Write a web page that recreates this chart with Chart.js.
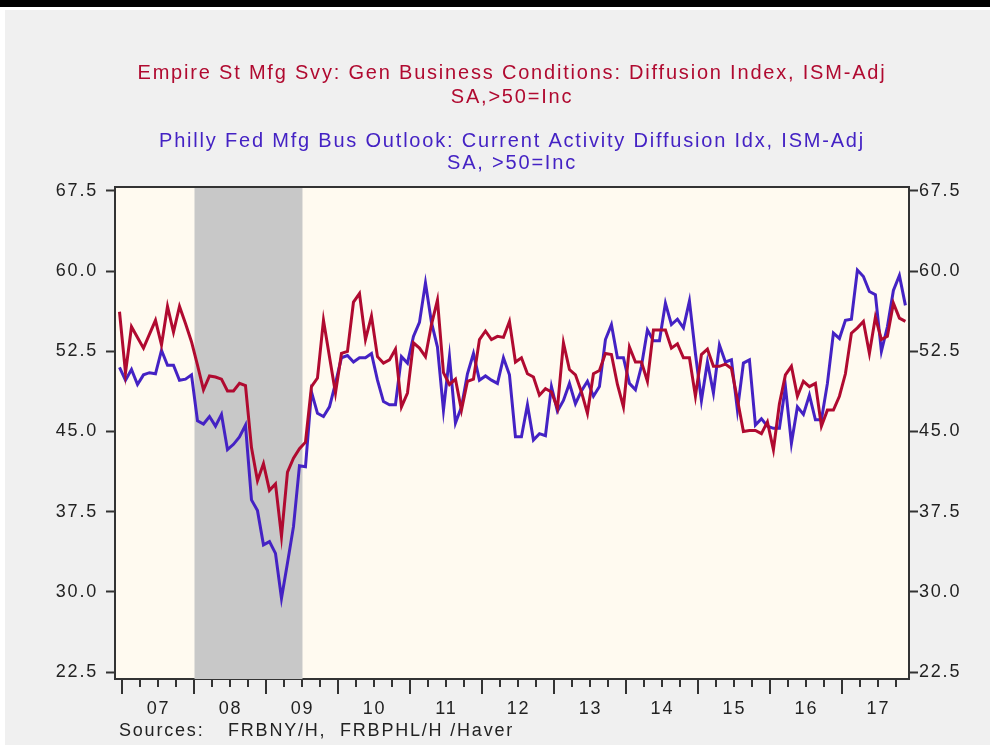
<!DOCTYPE html>
<html>
<head>
<meta charset="utf-8">
<script src="https://cdn.jsdelivr.net/npm/chart.js@4.4.0/dist/chart.umd.min.js"></script>
<style>
  body { margin: 0; background: #fff; width: 990px; height: 745px; overflow: hidden; position: relative; }
  #bar { position: absolute; left: 0; top: 0; width: 990px; height: 7px; background: #000; }
  #panel { position: absolute; left: 5px; top: 10px; width: 985px; height: 735px; background: #f0f0f0; }
  #salesChart { position: absolute; left: 0; top: 0; }
  .src { position: absolute; top: 721px; font: 18px "Liberation Sans", Arial, sans-serif; line-height: 18px; letter-spacing: 1.8px; color: #222; white-space: pre; }
</style>
</head>
<body>
<div id="bar"></div>
<div id="panel"></div>
<canvas id="salesChart" width="990" height="745"></canvas>
<div class="src" style="left:119px">Sources:</div>
<div class="src" style="left:228px">FRBNY/H,  FRBPHL/H /Haver</div>
<script>
// months counted from Jan 2007 (0); first value is Dec 2006
const firstMonth = -1;

const empire = [
  56.2, 50.5, 54.8, 53.8, 52.8, 54.1, 55.4, 53.1, 56.7, 54.3, 56.7, 55.1, 53.4,
  51.2, 48.9, 50.2, 50.1, 49.9, 48.8, 48.8, 49.5, 49.3, 43.5, 40.4, 42.0,
  39.5, 40.1, 35.2, 41.2, 42.5, 43.4, 44.0, 49.2, 50.0, 55.4, 52.0, 48.6,
  52.3, 52.5, 57.1, 57.9, 53.6, 55.8, 52.0, 51.4, 51.7, 52.7, 47.3, 48.6,
  53.3, 52.8, 52.0, 55.0, 57.3, 50.5, 49.4, 49.9, 47.0, 49.7, 49.9, 53.6,
  54.4, 53.6, 53.9, 53.8, 55.3, 51.5, 51.9, 50.4, 50.1, 48.4, 49.0, 48.7,
  47.2, 53.3, 50.8, 50.3, 48.7, 46.7, 50.4, 50.7, 52.3, 52.2, 49.4, 47.3,
  52.9, 51.5, 51.5, 49.7, 54.5, 54.5, 54.5, 52.8, 53.2, 51.9, 51.9, 48.3,
  52.2, 52.7, 51.1, 51.1, 51.3, 50.9, 48.0, 45.0, 45.1, 45.1, 44.8, 45.9,
  43.3, 47.6, 50.3, 51.1, 48.3, 49.7, 49.2, 49.5, 45.5, 47.0, 47.0, 48.3,
  50.4, 54.2, 54.7, 55.3, 52.3, 55.7, 53.6, 53.9, 57.0, 55.6, 55.3
];

const philly = [
  51.0, 49.8, 50.8, 49.4, 50.3, 50.5, 50.4, 52.6, 51.2, 51.2, 49.8, 49.9, 50.3,
  46.0, 45.7, 46.4, 45.5, 46.6, 43.3, 43.8, 44.5, 45.6, 38.6, 37.6, 34.4,
  34.7, 33.6, 29.4, 32.7, 36.1, 41.8, 41.7, 48.7, 46.7, 46.4, 47.3, 49.5,
  51.9, 52.1, 51.5, 51.9, 51.9, 52.3, 49.8, 47.8, 47.5, 47.5, 52.0, 51.4,
  53.9, 55.2, 58.9, 55.2, 52.9, 47.0, 52.0, 45.8, 47.3, 50.4, 52.3, 49.8,
  50.2, 49.8, 49.5, 51.9, 50.3, 44.5, 44.5, 47.5, 44.2, 44.8, 44.6, 49.2,
  46.9, 47.9, 49.5, 47.6, 48.8, 49.7, 48.3, 49.2, 53.6, 55.0, 51.9, 51.9,
  49.5, 48.9, 51.1, 54.5, 53.5, 53.5, 57.0, 55.0, 55.5, 54.7, 57.2, 52.3,
  47.9, 51.5, 48.6, 53.1, 51.5, 51.7, 47.0, 51.4, 51.7, 45.6, 46.2, 45.5,
  45.3, 45.3, 49.2, 43.9, 47.3, 46.6, 48.4, 46.1, 46.1, 49.5, 54.2, 53.7,
  55.4, 55.5, 60.1, 59.5, 58.1, 57.8, 52.5, 54.8, 58.2, 59.6, 56.8
];

const yearLabels = ["07", "08", "09", "10", "11", "12", "13", "14", "15", "16", "17"];
const yTicks = [22.5, 30.0, 37.5, 45.0, 52.5, 60.0, 67.5];
// NBER recession Dec 2007 - Jun 2009, in months from Jan 2007
const recession = [11, 29];

const titleLines = ["Empire St Mfg Svy: Gen Business Conditions: Diffusion Index, ISM-Adj", "SA,>50=Inc"];
const subtitleLines = ["Philly Fed Mfg Bus Outlook: Current Activity Diffusion Idx, ISM-Adj", "SA, >50=Inc"];

const FONT = "'Liberation Sans', Arial, sans-serif";
const RED = "#b00a30";
const BLUE = "#4422c4";
const INK = "#222";

const toPoints = arr => arr.map((v, i) => ({ x: firstMonth + i, y: v }));

const framePlugin = {
  id: "frame",
  beforeLayout(chart) {
    chart.ctx.letterSpacing = "1.8px";
  },
  beforeDraw(chart) {
    const { ctx, chartArea: a } = chart;
    ctx.letterSpacing = "1.8px";
    ctx.save();
    ctx.fillStyle = "#fffaf0";
    ctx.fillRect(a.left, a.top, a.right - a.left, a.bottom - a.top);
    ctx.restore();
  },
  beforeDatasetsDraw(chart) {
    const { ctx, chartArea: a, scales } = chart;
    const x0 = scales.x.getPixelForValue(recession[0] + 0.5);
    const x1 = scales.x.getPixelForValue(recession[1] + 0.5);
    ctx.save();
    ctx.fillStyle = "#c8c8c8";
    ctx.fillRect(x0, a.top, x1 - x0, a.bottom - a.top);
    ctx.restore();
  },
  afterDraw(chart) {
    const { ctx, chartArea: a, scales } = chart;
    ctx.save();
    ctx.strokeStyle = "#333";
    ctx.lineWidth = 2;
    ctx.beginPath();
    ctx.moveTo(a.left - 1, a.top);
    ctx.lineTo(a.right + 1, a.top);
    ctx.stroke();
    // quarterly tick marks, longer at the start of each year
    for (let q = 0; q < yearLabels.length * 4; q++) {
      const m = q * 3 - 0.5;
      if (m > scales.x.max) break;
      const px = Math.round(scales.x.getPixelForValue(m));
      const len = q % 4 === 0 ? 14 : 7;
      ctx.beginPath();
      ctx.moveTo(px, a.bottom + 1);
      ctx.lineTo(px, a.bottom + 1 + len);
      ctx.stroke();
    }
    ctx.restore();
  }
};

const yAxis = (position, width, padding) => ({
  type: "linear",
  position: position,
  min: 21.85,
  max: 67.87,
  afterBuildTicks: scale => { scale.ticks = yTicks.map(v => ({ value: v })); },
  afterFit: scale => { scale.width = width; },
  ticks: {
    color: INK,
    padding: padding,
    font: { family: FONT, size: 18 },
    callback: v => v.toFixed(1)
  },
  grid: { drawOnChartArea: false, drawTicks: true, tickLength: 9, tickColor: "#333", tickWidth: 2 },
  border: { display: true, color: "#333", width: 2 }
});

const ctx = document.getElementById("salesChart");

const surveyChart = new Chart(ctx, {
  type: "line",
  data: {
    datasets: [{
      label: "Empire",
      data: toPoints(empire),
      borderColor: RED,
      borderWidth: 3,
      pointRadius: 0,
      tension: 0
    }, {
      label: "Philly",
      data: toPoints(philly),
      borderColor: BLUE,
      borderWidth: 3,
      pointRadius: 0,
      tension: 0
    }]
  },
  options: {
    responsive: false,
    animation: false,
    layout: { padding: 0 },
    scales: {
      x: {
        type: "linear",
        min: -1.75,
        max: 130.6,
        afterBuildTicks: scale => {
          scale.ticks = yearLabels.map((l, k) => ({ value: 12 * k + 5.5 }));
        },
        afterFit: scale => { scale.height = 66; },
        ticks: {
          color: INK,
          padding: 11,
          autoSkip: false,
          maxRotation: 0,
          font: { family: FONT, size: 18 },
          callback: (v, i) => yearLabels[i]
        },
        grid: { display: false },
        border: { display: true, color: "#333", width: 2 }
      },
      y: yAxis("left", 115, 8),
      y2: yAxis("right", 81, 1)
    },
    plugins: {
      legend: { display: false },
      tooltip: { enabled: false },
      title: {
        display: true,
        fullSize: false,
        text: titleLines,
        color: RED,
        font: { family: FONT, size: 20, weight: "normal", lineHeight: 1.2 },
        padding: { top: 61, bottom: 0 }
      },
      subtitle: {
        display: true,
        fullSize: false,
        text: subtitleLines,
        color: BLUE,
        font: { family: FONT, size: 20, weight: "normal", lineHeight: 1.1 },
        padding: { top: 21, bottom: 13 }
      }
    }
  },
  plugins: [framePlugin]
});
</script>
</body>
</html>
